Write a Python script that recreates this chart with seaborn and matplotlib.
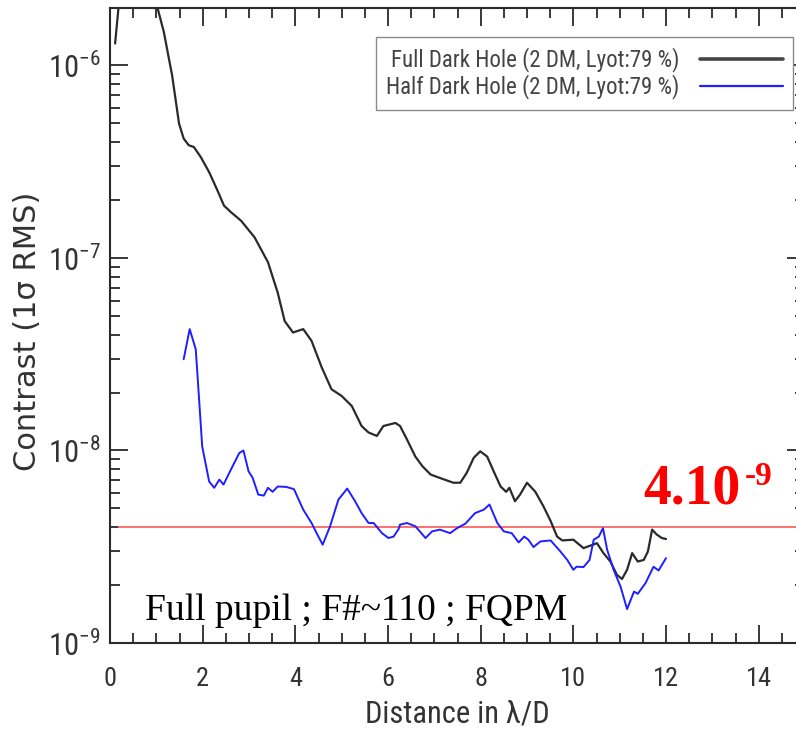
import matplotlib
matplotlib.use("Agg")
import matplotlib.pyplot as plt
import pandas as pd
import seaborn as sns
from matplotlib import font_manager
from matplotlib.lines import Line2D
from matplotlib.ticker import MultipleLocator, LogLocator, NullFormatter, LogFormatterMathtext

# Radial contrast profiles (separation in lambda/D, 1-sigma RMS contrast)
full_sep = [0.11, 0.2, 0.4, 0.6, 0.8, 1.0, 1.16, 1.34, 1.49, 1.59, 1.70, 1.81, 1.96,
            2.14, 2.32, 2.46, 2.61, 2.83, 3.12, 3.41, 3.62, 3.77, 3.95, 4.17, 4.35,
            4.57, 4.78, 5.00, 5.22, 5.43, 5.58, 5.76, 5.90, 6.16, 6.26, 6.41, 6.59,
            6.74, 6.92, 7.12, 7.41, 7.56, 7.70, 7.85, 7.99, 8.14, 8.28, 8.43, 8.55,
            8.62, 8.74, 8.85, 9.00, 9.18, 9.36, 9.51, 9.65, 9.76, 10.00, 10.22,
            10.36, 10.51, 10.65, 10.80, 10.94, 11.05, 11.16, 11.27, 11.39, 11.52,
            11.61, 11.70, 11.80, 11.91, 12.00]
full_contrast = [1.30e-6, 2.2e-6, 3.5e-6, 4.2e-6, 3.5e-6, 2.1e-6, 1.50e-6, 8.9e-7,
                 4.99e-7, 4.17e-7, 3.85e-7, 3.77e-7, 3.34e-7, 2.79e-7, 2.24e-7,
                 1.87e-7, 1.73e-7, 1.56e-7, 1.28e-7, 9.5e-8, 6.6e-8, 4.7e-8, 4.1e-8,
                 4.27e-8, 3.71e-8, 2.70e-8, 2.08e-8, 1.92e-8, 1.70e-8, 1.34e-8,
                 1.24e-8, 1.19e-8, 1.34e-8, 1.39e-8, 1.34e-8, 1.14e-8, 9.3e-9, 8.3e-9,
                 7.5e-9, 7.2e-9, 6.8e-9, 6.8e-9, 7.66e-9, 9.16e-9, 9.9e-9, 9.3e-9,
                 7.8e-9, 6.5e-9, 6.1e-9, 6.4e-9, 5.45e-9, 5.9e-9, 6.8e-9, 6.1e-9,
                 5.1e-9, 4.3e-9, 3.57e-9, 3.41e-9, 3.44e-9, 3.11e-9, 3.20e-9, 3.30e-9,
                 2.93e-9, 2.65e-9, 2.26e-9, 2.15e-9, 2.40e-9, 2.93e-9, 2.65e-9,
                 2.70e-9, 2.99e-9, 3.88e-9, 3.66e-9, 3.51e-9, 3.47e-9]

half_sep = [1.59, 1.72, 1.85, 1.88, 1.99, 2.14, 2.25, 2.36, 2.45, 2.61, 2.79, 2.88,
            2.99, 3.08, 3.20, 3.32, 3.41, 3.51, 3.62, 3.80, 3.97, 4.17, 4.35, 4.46,
            4.59, 4.75, 4.93, 5.12, 5.29, 5.43, 5.58, 5.69, 5.87, 6.01, 6.12, 6.23,
            6.26, 6.41, 6.59, 6.81, 6.95, 7.12, 7.34, 7.49, 7.67, 7.88, 8.07, 8.19,
            8.36, 8.50, 8.67, 8.82, 8.94, 9.03, 9.14, 9.29, 9.51, 9.72, 9.87, 10.00,
            10.07, 10.22, 10.35, 10.44, 10.55, 10.64, 10.73, 10.87, 11.02, 11.16,
            11.31, 11.39, 11.56, 11.73, 11.84, 12.00]
half_contrast = [2.98e-8, 4.27e-8, 3.36e-8, 2.64e-8, 1.05e-8, 6.9e-9, 6.4e-9, 7.06e-9,
                 6.65e-9, 7.96e-9, 9.7e-9, 1.0e-8, 7.8e-9, 7.2e-9, 5.9e-9, 5.83e-9,
                 6.4e-9, 6.1e-9, 6.5e-9, 6.47e-9, 6.3e-9, 4.93e-9, 4.2e-9, 3.72e-9,
                 3.24e-9, 4.04e-9, 5.56e-9, 6.34e-9, 5.45e-9, 4.73e-9, 4.2e-9, 4.2e-9,
                 3.72e-9, 3.51e-9, 3.57e-9, 3.91e-9, 4.12e-9, 4.2e-9, 4.04e-9, 3.51e-9,
                 3.8e-9, 3.88e-9, 3.72e-9, 3.95e-9, 4.17e-9, 4.73e-9, 4.93e-9, 5.24e-9,
                 4.2e-9, 3.8e-9, 3.72e-9, 3.33e-9, 3.57e-9, 3.44e-9, 3.15e-9, 3.37e-9,
                 3.41e-9, 2.99e-9, 2.70e-9, 2.40e-9, 2.49e-9, 2.48e-9, 2.70e-9, 3.44e-9,
                 3.57e-9, 3.95e-9, 3.05e-9, 2.40e-9, 1.96e-9, 1.50e-9, 1.85e-9, 1.80e-9,
                 2.05e-9, 2.49e-9, 2.38e-9, 2.76e-9]

series_labels = ["Full Dark Hole (2 DM, Lyot:79 %)", "Half Dark Hole (2 DM, Lyot:79 %)"]
threshold = 4e-9
threshold_label = "4.10"
threshold_exp = "-9"
setup_label = "Full pupil ; F#~110 ; FQPM"

sns.set_theme(style="ticks")
installed = {f.name for f in font_manager.fontManager.ttflist}
narrow = next((n for n in ["Liberation Sans Narrow", "Roboto Condensed",
                           "Noto Sans Condensed", "Open Sans Condensed",
                           "DejaVu Sans Condensed"] if n in installed), "DejaVu Sans")
plt.rcParams["font.family"] = [narrow, "DejaVu Sans"]
plt.rcParams["axes.unicode_minus"] = True

W, H = 796, 736
fig = plt.figure(figsize=(W / 100, H / 100), dpi=100)
fig.patch.set_facecolor("white")
ax = fig.add_axes([110 / W, 1 - 643 / H, 695 / W, (643 - 7.5) / H])
ax.set_facecolor("white")

full_df = pd.DataFrame({"sep": full_sep, "contrast": full_contrast})
half_df = pd.DataFrame({"sep": half_sep, "contrast": half_contrast})
ink = "#2a2a2a"
blue = "#1f1fff"
sns.lineplot(data=full_df, x="sep", y="contrast", ax=ax, color=ink, lw=1.6, sort=False)
sns.lineplot(data=half_df, x="sep", y="contrast", ax=ax, color=blue, lw=1.4, sort=False)
ax.hlines(threshold, 0.17, 15.5, color="#ff6f6f", lw=1.4, zorder=1)

ax.set_yscale("log")
ax.set_xlim(0, 15)
ax.set_ylim(1e-9, 2e-6)

ax.xaxis.set_major_locator(MultipleLocator(2))
ax.xaxis.set_minor_locator(MultipleLocator(0.5))
ax.yaxis.set_major_locator(LogLocator(base=10))
ax.yaxis.set_minor_locator(LogLocator(base=10, subs=range(2, 10)))
ax.yaxis.set_major_formatter(LogFormatterMathtext())
ax.yaxis.set_minor_formatter(NullFormatter())

ax.tick_params(which="both", direction="in", top=True, right=True,
               color=ink, width=1.3, labelcolor="#333333")
ax.tick_params(which="major", length=13)
ax.tick_params(which="minor", length=7)
ax.tick_params(axis="x", which="major", labelsize=19, pad=17)
ax.tick_params(axis="y", which="major", labelsize=22, pad=7)
for s in ax.spines.values():
    s.set_color(ink)
    s.set_linewidth(1.5)

ax.set_xlabel("Distance in λ/D", fontsize=22, color="#333333")
ax.set_ylabel("Contrast (1σ RMS)", fontsize=22, color="#333333", family=["DejaVu Sans"])
ax.xaxis.set_label_coords(0.5, -0.089)
ax.yaxis.set_label_coords(-0.098, 0.491)

handles = [Line2D([], [], color="#444444", lw=2.6), Line2D([], [], color=blue, lw=1.6)]
leg = ax.legend(handles, series_labels, loc="upper right",
                bbox_to_anchor=(793 / W, 1 - 37 / H), bbox_transform=fig.transFigure,
                markerfirst=False, frameon=True, fancybox=False, framealpha=1,
                edgecolor="#8a8a8a", fontsize=16.5, handlelength=3.6,
                handletextpad=0.9, borderpad=0.45, labelspacing=0.1,
                borderaxespad=0, labelcolor="#444444")
leg.get_frame().set_linewidth(1.0)

serif = ["Liberation Serif", "DejaVu Serif"]
fig.text(145 / W, 1 - 620 / H, setup_label, family=serif, fontsize=27,
         color="black", va="baseline", ha="left")
fig.text(643 / W, 1 - 503 / H, threshold_label, family=serif, fontsize=40,
         fontweight="bold", color="red", va="baseline", ha="left")
fig.text(745 / W, 1 - 485 / H, threshold_exp, family=serif, fontsize=24,
         fontweight="bold", color="red", va="baseline", ha="left")

fig.savefig("out.png", dpi=100, facecolor="white")
